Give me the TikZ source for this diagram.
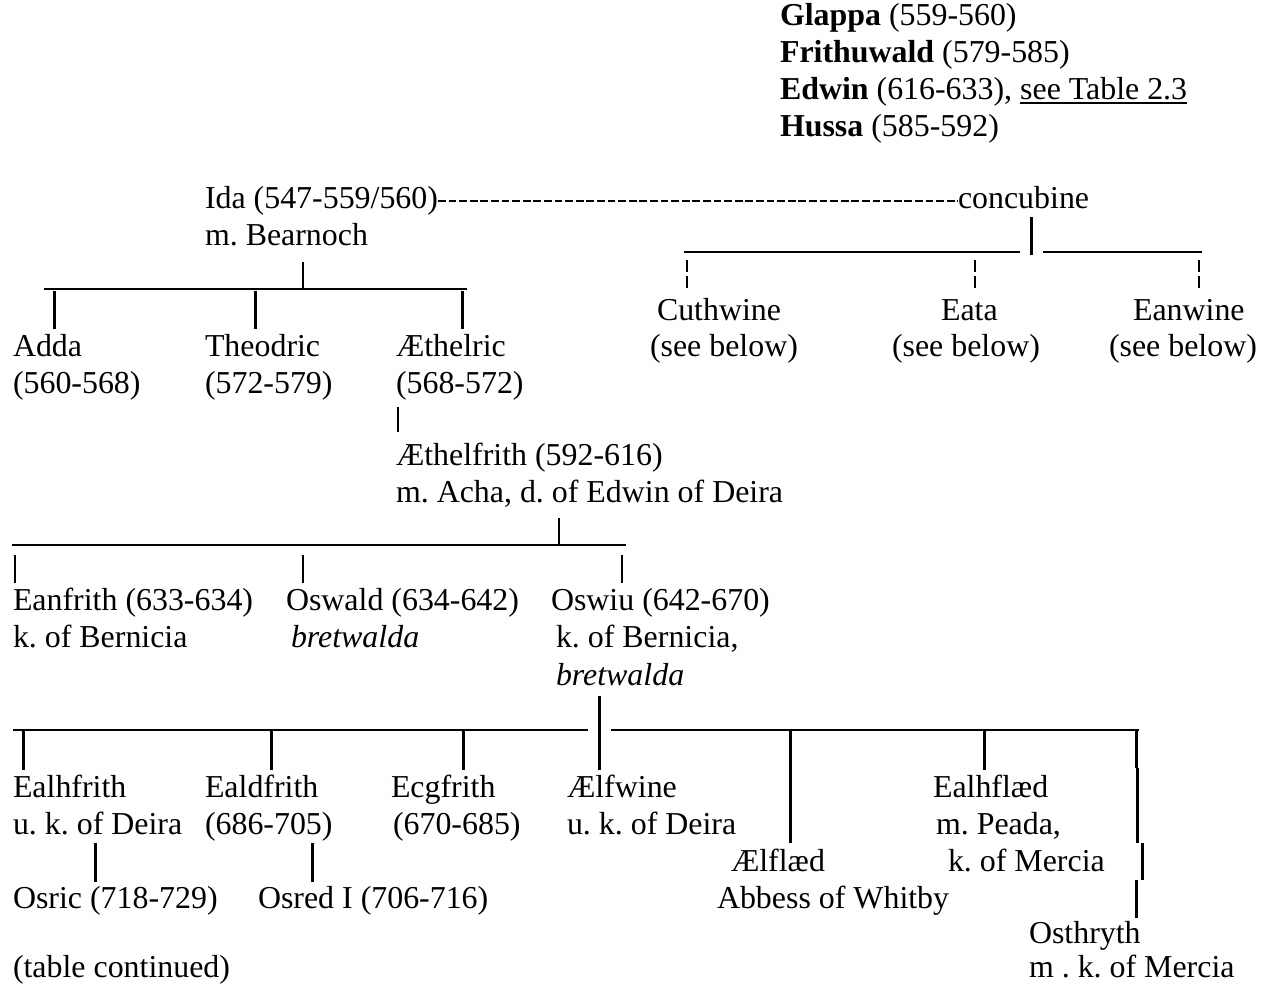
\documentclass[tikz,border=0pt]{standalone}
\usepackage{fontspec}
\setmainfont{Liberation Serif}
\frenchspacing
\begin{document}
\begin{tikzpicture}[x=1pt,y=-1pt,
  txt/.style={anchor=base west,inner sep=0pt,outer sep=0pt,font=\fontsize{31.9}{38}\selectfont\frenchspacing},
  thinline/.style={line width=1.2pt},
  hline/.style={line width=1.6pt},
  barline/.style={line width=3pt},
  brokenbar/.style={line width=1.2pt,dash pattern=on 12pt off 4pt},
  hyphens/.style={line width=1.8pt,dash pattern=on 7.9pt off 2.7pt},
  ulline/.style={line width=2pt}]
\useasboundingbox (0,0) rectangle (1266,985);

% ---- top block
\node[txt] (glappa) at (780,25) {\textbf{Glappa} (559-560)};
\node[txt] (frith) at (780,62) {\textbf{Frithuwald} (579-585)};
\node[txt] (edwin) at (780,99) {\textbf{Edwin} (616-633),};
\node[txt] (seetab) at ([xshift=8pt]edwin.base east) {see Table 2.3};
\draw[ulline] ([yshift=-4pt]seetab.base west) -- ([yshift=-4pt]seetab.base east);
\node[txt] (hussa) at (780,136) {\textbf{Hussa} (585-592)};

% ---- Ida and concubine
\node[txt] (ida) at (205,208) {Ida (547-559/560)};
\node[txt] (conc) at (958,208) {concubine};
\draw[hyphens] ([yshift=7pt]ida.base east) -- ([yshift=7pt]conc.base west);
\node[txt] (bear) at (205,245) {m. Bearnoch};

% Ida's children
\coordinate (iT) at (303,262);
\coordinate (iJ) at (303,289);
\coordinate (iL) at (44,289);
\coordinate (iR) at (467,289);
\draw[thinline] (iT) -- (iJ);
\draw[hline] (iL) -- (iR);
\node[txt] (adda) at (13,356) {Adda};
\node[txt] (addad) at (13,393) {(560-568)};
\node[txt] (theo) at (205,356) {Theodric};
\node[txt] (theod) at (205,393) {(572-579)};
\node[txt] (aethr) at (396,356) {Æthelric};
\node[txt] (aethrd) at (396,393) {(568-572)};
\coordinate (b1) at (54,291);  \coordinate (b1e) at (54,329);
\coordinate (b2) at (255,291); \coordinate (b2e) at (255,329);
\coordinate (b3) at (462,291); \coordinate (b3e) at (462,329);
\draw[barline] (b1) -- (b1e);
\draw[barline] (b2) -- (b2e);
\draw[barline] (b3) -- (b3e);

% concubine's children
\coordinate (cT) at (1031,217); \coordinate (cB) at (1031,255);
\draw[barline] (cT) -- (cB);
\coordinate (cL1) at (684,252); \coordinate (cL2) at (1020,252);
\coordinate (cR1) at (1043,252); \coordinate (cR2) at (1202,252);
\draw[hline] (cL1) -- (cL2);
\draw[hline] (cR1) -- (cR2);
\node[txt] (cuth) at (657,320) {Cuthwine};
\node[txt] (cuths) at (650,356) {(see below)};
\node[txt] (eata) at (941,320) {Eata};
\node[txt] (eatas) at (892,356) {(see below)};
\node[txt] (eanw) at (1133,320) {Eanwine};
\node[txt] (eanws) at (1109,356) {(see below)};
\coordinate (d1) at (687,260); \coordinate (d1e) at (687,290);
\coordinate (d2) at (975,260); \coordinate (d2e) at (975,290);
\coordinate (d3) at (1199,260); \coordinate (d3e) at (1199,290);
\draw[brokenbar] (d1) -- (d1e);
\draw[brokenbar] (d2) -- (d2e);
\draw[brokenbar] (d3) -- (d3e);

% Aethelric -> Aethelfrith
\coordinate (aT) at (398,407); \coordinate (aB) at (398,432);
\draw[thinline] (aT) -- (aB);
\node[txt] (aethf) at (396,465) {Æthelfrith (592-616)};
\node[txt] (acha) at (396,502) {m. Acha, d. of Edwin of Deira};

% Aethelfrith's children
\coordinate (eT) at (559,518); \coordinate (eJ) at (559,545);
\coordinate (eL) at (12,545); \coordinate (eR) at (626,545);
\draw[thinline] (eT) -- (eJ);
\draw[hline] (eL) -- (eR);
\coordinate (t1) at (15,555);  \coordinate (t1e) at (15,583);
\coordinate (t2) at (303,555); \coordinate (t2e) at (303,583);
\coordinate (t3) at (622,555); \coordinate (t3e) at (622,583);
\draw[thinline] (t1) -- (t1e);
\draw[thinline] (t2) -- (t2e);
\draw[thinline] (t3) -- (t3e);
\node[txt] (eanf) at (13,610) {Eanfrith (633-634)};
\node[txt] (eanfk) at (13,647) {k. of Bernicia};
\node[txt] (oswald) at (286,610) {Oswald (634-642)};
\node[txt] (oswaldb) at (291,647) {\itshape bretwalda};
\node[txt] (oswiu) at (551,610) {Oswiu (642-670)};
\node[txt] (oswiuk) at (556,647) {k. of Bernicia,};
\node[txt] (oswiub) at (556,685) {\itshape bretwalda};

% Oswiu's children
\coordinate (oT) at (599,696); \coordinate (oB) at (599,770);
\draw[barline] (oT) -- (oB);
\coordinate (oL1) at (13,730); \coordinate (oL2) at (588,730);
\coordinate (oR1) at (611,730); \coordinate (oR2) at (1139,730);
\draw[hline] (oL1) -- (oL2);
\draw[hline] (oR1) -- (oR2);
\coordinate (k1) at (23,731);  \coordinate (k1e) at (23,770);
\coordinate (k2) at (271,731); \coordinate (k2e) at (271,770);
\coordinate (k3) at (463,731); \coordinate (k3e) at (463,770);
\coordinate (k4) at (790,731); \coordinate (k4e) at (790,843);
\coordinate (k5) at (984,731); \coordinate (k5e) at (984,770);
\draw[barline] (k1) -- (k1e);
\draw[barline] (k2) -- (k2e);
\draw[barline] (k3) -- (k3e);
\draw[barline] (k4) -- (k4e);
\draw[barline] (k5) -- (k5e);
\coordinate (r1) at (1136,731);   \coordinate (r1e) at (1136,768);
\coordinate (r2) at (1137.5,768); \coordinate (r2e) at (1137.5,843);
\coordinate (r3) at (1142,843);   \coordinate (r3e) at (1142,880);
\coordinate (r4) at (1136,880);   \coordinate (r4e) at (1136,918);
\draw[barline] (r1) -- (r1e);
\draw[barline] (r2) -- (r2e);
\draw[barline] (r3) -- (r3e);
\draw[barline] (r4) -- (r4e);

\node[txt] (ealhf) at (13,797) {Ealhfrith};
\node[txt] (ealhfu) at (13,834) {u. k. of Deira};
\coordinate (s1) at (95,843); \coordinate (s1e) at (95,882);
\draw[barline] (s1) -- (s1e);
\node[txt] (osric) at (13,908) {Osric (718-729)};
\node[txt] (ealdf) at (205,797) {Ealdfrith};
\node[txt] (ealdfd) at (205,834) {(686-705)};
\coordinate (s2) at (312,843); \coordinate (s2e) at (312,882);
\draw[barline] (s2) -- (s2e);
\node[txt] (osred) at (258,908) {Osred I (706-716)};
\node[txt] (ecgf) at (391,797) {Ecgfrith};
\node[txt] (ecgfd) at (393,834) {(670-685)};
\node[txt] (aelfw) at (567,797) {Ælfwine};
\node[txt] (aelfwu) at (567,834) {u. k. of Deira};
\node[txt] (aelfl) at (731,871) {Ælflæd};
\node[txt] (abbess) at (717,908) {Abbess of Whitby};
\node[txt] (ealhfl) at (933,797) {Ealhflæd};
\node[txt] (peada) at (936,834) {m. Peada,};
\node[txt] (kmerc) at (948,871) {k. of Mercia};
\node[txt] (osth) at (1029,943) {Osthryth};
\node[txt] (osthm) at (1029,977) {m . k. of Mercia};
\node[txt] (cont) at (13,977) {(table continued)};
\end{tikzpicture}
\end{document}
